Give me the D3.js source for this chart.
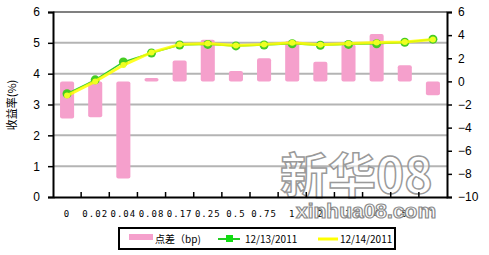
<!DOCTYPE html>
<html>
<head>
<meta charset="utf-8">
<script src="https://cdn.jsdelivr.net/npm/d3@7"></script>
<style>
  body { margin: 0; background: #fff; }
  text { font-family: Arial, "Liberation Sans", sans-serif; }
</style>
</head>
<body>
<div id="chart"></div>
<script>
// data
const categories = ["0", "0.02", "0.04", "0.08", "0.17", "0.25", "0.5", "0.75", "1", "2", "3", "4", "5", "7"];
const rate1213 = [3.35, 3.80, 4.38, 4.67, 4.93, 4.95, 4.90, 4.93, 4.97, 4.92, 4.95, 4.97, 5.02, 5.12];
const rate1214 = [3.29, 3.75, 4.28, 4.69, 4.95, 4.98, 4.91, 4.95, 5.00, 4.94, 4.98, 5.01, 5.03, 5.11];
const spread = [-3.2, -3.1, -8.4, 0.3, 1.8, 3.6, 0.9, 2.0, 3.5, 1.7, 3.2, 4.1, 1.4, -1.2];
const leftTicks = [0, 1, 2, 3, 4, 5, 6];
const rightTicks = [-10, -8, -6, -4, -2, 0, 2, 4, 6];

const W = 489, H = 255;
const plot = { left: 53, right: 447, top: 12, bottom: 197 };

const svg = d3.select("#chart").append("svg")
    .attr("width", W)
    .attr("height", H);

const x = d3.scaleBand()
    .domain(categories)
    .range([plot.left, plot.right])
    .paddingInner(0.5)
    .paddingOuter(0.25);

const yL = d3.scaleLinear().domain([0, 6]).range([plot.bottom, plot.top]);
const yR = d3.scaleLinear().domain([-10, 6]).range([plot.bottom, plot.top]);

// gridlines
svg.append("g")
    .selectAll("line")
    .data(leftTicks.filter(d => d > 0))
    .enter()
    .append("line")
    .attr("x1", plot.left)
    .attr("x2", plot.right)
    .attr("y1", d => yL(d))
    .attr("y2", d => yL(d))
    .style("stroke", d => d === 6 ? "#808080" : "#b4b4b4")
    .style("stroke-width", 2);

// watermark
svg.append("text")
    .attr("x", 280)
    .attr("y", 193)
    .style("font-family", "'Noto Sans CJK SC', sans-serif")
    .style("font-size", "48px")
    .style("font-weight", "bold")
    .style("fill", "#ffffff")
    .style("fill-opacity", 0.6)
    .style("stroke", "#9a9a9a")
    .style("stroke-width", 1.5)
    .text("新华08");

// bars on the right axis
const y0 = yR(0);
svg.append("g")
    .selectAll("rect")
    .data(spread)
    .enter()
    .append("rect")
    .attr("x", (d, i) => x(categories[i]))
    .attr("width", x.bandwidth())
    .attr("y", d => Math.min(yR(d), y0))
    .attr("height", d => Math.abs(yR(d) - y0))
    .attr("rx", 2)
    .style("fill", "#f5a0cc");

// lines
const cx = i => x(categories[i]) + x.bandwidth() / 2;
const line = d3.line()
    .x((d, i) => cx(i))
    .y(d => yL(d));

svg.append("path")
    .attr("d", line(rate1213))
    .style("fill", "none")
    .style("stroke", "#33cc33")
    .style("stroke-width", 1.5);

svg.append("g")
    .selectAll("circle")
    .data(rate1213)
    .enter()
    .append("circle")
    .attr("cx", (d, i) => cx(i))
    .attr("cy", d => yL(d))
    .attr("r", 4.5)
    .style("fill", "#44cc22");

svg.append("path")
    .attr("d", line(rate1214))
    .style("fill", "none")
    .style("stroke", "#ffff00")
    .style("stroke-opacity", 0.85)
    .style("stroke-width", 3);

svg.append("g")
    .selectAll("circle")
    .data(rate1214)
    .enter()
    .append("circle")
    .attr("cx", (d, i) => cx(i))
    .attr("cy", d => yL(d))
    .attr("r", 3)
    .style("fill", "#eeff22");

// axes
const axL = svg.append("g")
    .attr("transform", `translate(${plot.left},0)`)
    .call(d3.axisLeft(yL).tickValues(leftTicks).tickFormat(d3.format("d")).tickSize(5).tickPadding(8));
axL.selectAll("text").style("font-size", "12px").style("fill", "#000");

const axR = svg.append("g")
    .attr("transform", `translate(${plot.right},0)`)
    .call(d3.axisRight(yR).tickValues(rightTicks).tickSize(5).tickPadding(6));
axR.selectAll("text").style("font-size", "12px").style("fill", "#000");

const axB = svg.append("g")
    .attr("transform", `translate(0,${plot.bottom})`)
    .call(d3.axisBottom(x).tickSize(0).tickPadding(14));
axB.selectAll("text")
    .style("font-family", "'DejaVu Sans Mono', monospace")
    .style("font-size", "9px")
    .style("letter-spacing", "1px")
    .style("fill", "#000");

// ticks between categories on the bottom axis
const step = x.step();
svg.append("g")
    .selectAll("line")
    .data(d3.range(1, categories.length))
    .enter()
    .append("line")
    .attr("x1", i => plot.left + i * step)
    .attr("x2", i => plot.left + i * step)
    .attr("y1", plot.bottom)
    .attr("y2", plot.bottom - 5)
    .style("stroke", "#000")
    .style("stroke-width", 1.5);

[axL, axR, axB].forEach(a => {
    a.select(".domain").style("stroke", "#000").style("stroke-width", 2);
    a.selectAll(".tick line").style("stroke", "#000").style("stroke-width", 1.5);
});

svg.append("text")
    .attr("transform", `translate(16,105) rotate(-90)`)
    .attr("text-anchor", "middle")
    .style("font-family", "'Noto Sans CJK SC', sans-serif")
    .style("font-size", "11px")
    .text("收益率(%)");

// watermark url
svg.append("text")
    .attr("x", 296)
    .attr("y", 218)
    .style("font-family", "Arial, sans-serif")
    .style("font-size", "21px")
    .style("font-weight", "bold")
    .style("fill", "#ffffff")
    .style("stroke", "#8a8a8a")
    .style("stroke-width", 1.2)
    .text("xinhua08.com");

// legend
const lg = svg.append("g");
lg.append("rect")
    .attr("x", 119)
    .attr("y", 228)
    .attr("width", 276)
    .attr("height", 21)
    .style("fill", "#fff")
    .style("stroke", "#000")
    .style("stroke-width", 2);

lg.append("rect")
    .attr("x", 129)
    .attr("y", 234)
    .attr("width", 24)
    .attr("height", 6)
    .style("fill", "#f5a0cc");

lg.append("line")
    .attr("x1", 218).attr("x2", 240)
    .attr("y1", 239).attr("y2", 239)
    .style("stroke", "#22cc22")
    .style("stroke-width", 2);
lg.append("rect")
    .attr("x", 226).attr("y", 235)
    .attr("width", 7).attr("height", 7)
    .style("fill", "#11dd11");

lg.append("line")
    .attr("x1", 318).attr("x2", 338)
    .attr("y1", 239).attr("y2", 239)
    .style("stroke", "#ffff00")
    .style("stroke-width", 3);

const legendText = [
    { x: 155, t: "点差（bp)" },
    { x: 245, t: "12/13/2011" },
    { x: 340, t: "12/14/2011" }
];
lg.selectAll(".lt")
    .data(legendText)
    .enter()
    .append("text")
    .attr("x", d => d.x)
    .attr("y", 243)
    .style("font-family", "'Noto Sans CJK SC', 'DejaVu Sans Mono', monospace")
    .style("font-size", "10px")
    .text(d => d.t);
</script>
</body>
</html>
